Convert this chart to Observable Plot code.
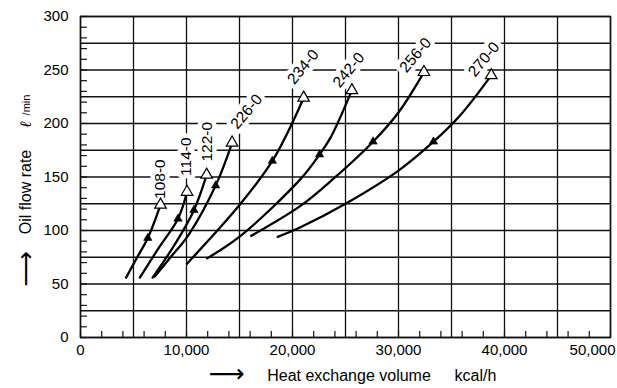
<!DOCTYPE html>
<html><head><meta charset="utf-8">
<script src="https://cdn.jsdelivr.net/npm/d3@7"></script>
<script src="https://cdn.jsdelivr.net/npm/@observablehq/plot@0.6"></script>
<style>body{margin:0;background:#fff;}</style>
</head><body><div id="chart"></div>
<script>
// Series (model names)
const series = ["108-0","114-0","122-0","226-0","234-0","242-0","256-0","270-0"];

// Curve points: heat exchange volume (kcal/h) vs oil flow rate (ℓ/min)
const heat108 = [4300, 5350, 6350, 7550];
const flow108 = [56, 75, 93, 124];
const heat114 = [5600, 7400, 9200, 10050];
const flow114 = [56, 84, 111, 136];
const heat122 = [6800, 8900, 10700, 11900];
const flow122 = [56, 87, 119, 152];
const heat226 = [7000, 8500, 10200, 12750, 14300];
const flow226 = [57, 75, 96, 142, 182];
const heat234 = [10050, 15100, 18100, 20100, 21050];
const flow234 = [69, 125, 165, 203, 224];
const heat242 = [11950, 15100, 20750, 22550, 23600, 25600];
const flow242 = [74, 95, 148, 171, 187, 231];
const heat256 = [16100, 20750, 23700, 27600, 30050, 32400];
const flow256 = [95, 123, 147, 183, 211, 248];
const heat270 = [18600, 20750, 25000, 30000, 33300, 35850, 38750];
const flow270 = [94, 103, 125, 156, 183, 208, 245];

// Direction arrows (filled triangles) on each curve
const arrowHeat = [6350, 9200, 10700, 12750, 18100, 22550, 27600, 33300];
const arrowFlow = [93, 111, 119, 142, 165, 171, 183, 183];

// Label anchor values (centre of each model label)
const labelHeat = [7550, 10000, 11950, 15650, 21000, 25300, 31600, 38050];
const labelFlow = [148, 169, 183, 211, 253, 250, 264, 260];

// Axis ticks
const xMajor = [0, 10000, 20000, 30000, 40000];
const xLast = [50000];
const xGrid = d3.range(0, 50001, 5000);
const xMinor = d3.range(0, 50001, 2000);
const yMajor = [0, 50, 100, 150, 200, 250, 300];
const yGrid = d3.range(0, 301, 25);
const yMinor = d3.range(0, 301, 10);

const heats = [heat108, heat114, heat122, heat226, heat234, heat242, heat256, heat270];
const flows = [flow108, flow114, flow122, flow226, flow234, flow242, flow256, flow270];

const rows = series.flatMap((s, k) => heats[k].map((h, j) => ({series: s, heat: h, flow: flows[k][j]})));
const ends = series.map((s, k) => ({series: s, heat: heats[k][heats[k].length - 1], flow: flows[k][flows[k].length - 1]}));
const arrows = series.map((s, k) => ({series: s, heat: arrowHeat[k], flow: arrowFlow[k]}));
const labels = series.map((s, k) => ({series: s, heat: labelHeat[k], flow: labelFlow[k], vertical: k < 3}));

const font = "Liberation Sans, Arial, Helvetica, sans-serif";
const ink = "#111";
const title = {textAnchor: "middle", lineAnchor: "middle", fill: "black"};

const chart = Plot.plot({
  width: 617,
  height: 388,
  marginLeft: 80,
  marginRight: 7,
  marginTop: 16,
  marginBottom: 51,
  style: {fontFamily: font, fontSize: "15px", color: "black", background: "white"},
  x: {domain: [0, 50000], label: null},
  y: {domain: [0, 300], label: null},
  marks: [
    Plot.gridY(yGrid, {stroke: ink, strokeOpacity: 1, strokeWidth: 1.6}),
    Plot.gridX(xGrid, {stroke: ink, strokeOpacity: 1, strokeWidth: 1.3}),
    Plot.frame({stroke: ink, strokeWidth: 1.5}),
    Plot.axisY(yMinor, {tickSize: -7, fill: "none", stroke: ink, strokeWidth: 1.2, label: null}),
    Plot.axisX(xMinor, {tickSize: -6, fill: "none", stroke: ink, strokeWidth: 1.2, label: null}),
    Plot.axisY(yMajor, {tickSize: 0, tickPadding: 12, fontSize: 15, label: null}),
    Plot.axisX(xMajor, {tickSize: 0, tickPadding: 7, fontSize: 15, tickFormat: d3.format(","), label: null}),
    Plot.axisX(xLast, {tickSize: 0, tickPadding: 7, fontSize: 15, tickFormat: d3.format(","), textAnchor: "end", dx: 5, label: null}),
    // model labels with white halo
    Plot.text(labels, {x: "heat", y: "flow", text: "series", rotate: d => d.vertical ? -90 : -50,
      fontSize: 15.5, fill: "black", stroke: "white", strokeWidth: 9, paintOrder: "stroke", strokeLinejoin: "round"}),
    Plot.line(rows, {x: "heat", y: "flow", z: "series", curve: "catmull-rom", stroke: "black", strokeWidth: 2.3}),
    Plot.dot(arrows, {x: "heat", y: "flow", symbol: "triangle", r: 3.1, fill: "black", stroke: "black", strokeWidth: 0.6}),
    Plot.dot(ends, {x: "heat", y: "flow", symbol: "triangle", r: 4.3, fill: "white", stroke: "black", strokeWidth: 1.2}),
    // axis titles
    Plot.text(["⟶"], {...title, frameAnchor: "left", rotate: -90, dx: -55, dy: 92, fontSize: 25, fontFamily: "DejaVu Sans"}),
    Plot.text(["Oil flow rate"], {...title, frameAnchor: "left", rotate: -90, dx: -55, dy: 15, fontSize: 16}),
    Plot.text(["ℓ"], {...title, frameAnchor: "left", rotate: -90, dx: -55, dy: -53, fontSize: 16, fontStyle: "italic", fontWeight: "bold", fontFamily: "DejaVu Serif"}),
    Plot.text(["/min"], {...title, frameAnchor: "left", rotate: -90, dx: -54, dy: -72, fontSize: 11}),
    Plot.text(["⟶"], {...title, frameAnchor: "bottom", dx: -119, dy: 36.5, fontSize: 25, fontFamily: "DejaVu Sans"}),
    Plot.text(["Heat exchange volume"], {...title, frameAnchor: "bottom", dx: 3.5, dy: 38, fontSize: 16}),
    Plot.text(["kcal/h"], {...title, frameAnchor: "bottom", dx: 130, dy: 38, fontSize: 16})
  ]
});
document.getElementById("chart").appendChild(chart);
</script>
</body></html>
